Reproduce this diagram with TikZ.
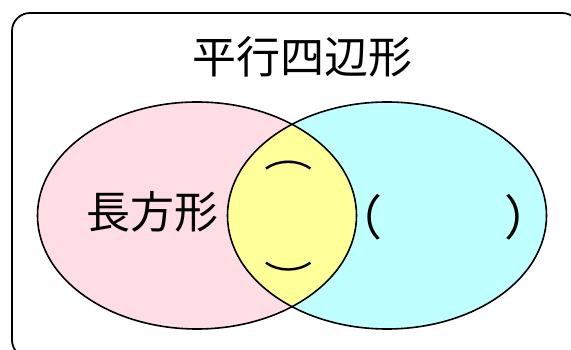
\documentclass[tikz,border=0pt]{standalone}
\usepackage{fontspec}
\newfontfamily\jp{Noto Sans CJK JP}
\definecolor{pinkfill}{RGB}{255,221,228}
\definecolor{cyanfill}{RGB}{191,255,255}
\definecolor{yellowfill}{RGB}{255,255,153}
\begin{document}
\begin{tikzpicture}[x=1pt,y=-1pt,
  lbl/.style={font=\jp\fontsize{44}{44}\selectfont, inner sep=0pt},
  paren/.style={font=\jp\fontsize{48}{48}\selectfont, inner sep=0pt},
  outline/.style={draw=black, line width=1.6pt}]
\useasboundingbox (0,0) rectangle (571,350);
\begin{scope}
\clip (0,0) rectangle (571,350);
\draw[line width=1.8pt, rounded corners=18pt] (12,13) rectangle (580,358);
\end{scope}
\coordinate (L) at (197,215.5);
\coordinate (R) at (387,215.5);
\fill[pinkfill] (L) ellipse [x radius=159.5, y radius=113.5];
\fill[cyanfill] (R) ellipse [x radius=159.5, y radius=113.5];
\begin{scope}
\clip (L) ellipse [x radius=159.5, y radius=113.5];
\fill[yellowfill] (R) ellipse [x radius=159.5, y radius=113.5];
\end{scope}
\draw[outline] (L) ellipse [x radius=159.5, y radius=113.5];
\draw[outline] (R) ellipse [x radius=159.5, y radius=113.5];
\node[lbl] (title) at (302,57) {平行四辺形};
\node[lbl] (rect) at (152,212) {長方形};
\node[lbl] (top) at (289,166) {\scalebox{1.1}[0.8]{︵}};
\node[lbl] (bot) at (289,277) {\scalebox{1.1}[0.8]{︶}};
\node[paren] (lp) at (358,217) {（};
\node[paren] (rp) at (528,217) {）};
\end{tikzpicture}
\end{document}
